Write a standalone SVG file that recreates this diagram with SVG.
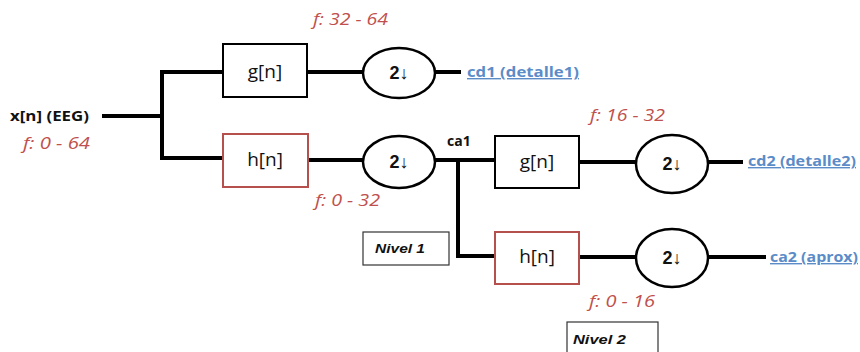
<svg xmlns="http://www.w3.org/2000/svg" width="860" height="352" viewBox="0 0 860 352">
  <style>
    .wire { stroke: #000; stroke-width: 4; fill: none; stroke-linecap: square; }
    .box { fill: #fff; stroke: #000; stroke-width: 2; }
    .box.low { stroke: #b5504c; }
    .down { fill: #fff; stroke: #000; stroke-width: 2.5; }
    .flt { font-family: "Open Sans", "Liberation Sans", sans-serif; font-size: 19px; fill: #111; text-anchor: middle; }
    .dec { font-family: "Liberation Sans", sans-serif; font-size: 18px; font-weight: bold; fill: #111; text-anchor: middle; }
    .out { font-family: "Open Sans", "Liberation Sans", sans-serif; font-size: 14px; font-weight: bold; fill: #5b8cc8; text-decoration: underline; }
    .band { font-family: "Open Sans", "Liberation Sans", sans-serif; font-size: 16px; font-style: italic; fill: #c0504d; }
    .sig { font-family: "Open Sans", "Liberation Sans", sans-serif; font-size: 14px; font-weight: bold; fill: #111; }
    .lvl { fill: #fff; stroke: #333; stroke-width: 1.2; }
    .lvltxt { font-family: "Liberation Sans", sans-serif; font-size: 13px; font-weight: bold; font-style: italic; fill: #111; }
  </style>

  <!-- connectors -->
  <g id="connectors">
    <path class="wire" d="M104 116 H162 M162 72 V158 M162 72 H223 M162 158 H223"/>
    <path class="wire" d="M307 72 H363 M436 72 H459"/>
    <path class="wire" d="M307 160 H363 M436 160 H495 M458 160 V256 H495"/>
    <path class="wire" d="M579 162 H636 M708 162 H741"/>
    <path class="wire" d="M579 257 H636 M708 257 H764"/>
  </g>

  <!-- input -->
  <g id="input">
    <text class="sig" x="10" y="121" textLength="79" lengthAdjust="spacingAndGlyphs">x[n] (EEG)</text>
    <text class="band" x="23" y="149" textLength="67" lengthAdjust="spacingAndGlyphs">f: 0 - 64</text>
  </g>

  <!-- level 1 -->
  <g id="g1">
    <rect class="box" x="223" y="44" width="84" height="53"/>
    <text class="flt" x="265" y="78">g[n]</text>
  </g>
  <g id="h1">
    <rect class="box low" x="223" y="134" width="85" height="53"/>
    <text class="flt" x="265" y="166">h[n]</text>
  </g>
  <g id="ds1">
    <ellipse class="down" cx="399" cy="73" rx="36" ry="25"/>
    <text class="dec" x="399" y="79">2↓</text>
  </g>
  <g id="ds2">
    <ellipse class="down" cx="399" cy="162" rx="36" ry="26"/>
    <text class="dec" x="399" y="168">2↓</text>
  </g>
  <g id="cd1">
    <text class="out" x="467" y="77" textLength="112" lengthAdjust="spacingAndGlyphs">cd1 (detalle1)</text>
  </g>
  <g id="band1">
    <text class="band" x="313" y="25" textLength="75" lengthAdjust="spacingAndGlyphs">f: 32 - 64</text>
    <text class="band" x="315" y="206" textLength="65" lengthAdjust="spacingAndGlyphs">f: 0 - 32</text>
  </g>
  <g id="ca1">
    <text class="sig" x="447" y="146">ca1</text>
  </g>
  <g id="nivel1">
    <rect class="lvl" x="363" y="232" width="86" height="33"/>
    <text class="lvltxt" x="375" y="253" textLength="50" lengthAdjust="spacingAndGlyphs">Nivel  1</text>
  </g>

  <!-- level 2 -->
  <g id="g2">
    <rect class="box" x="495" y="136" width="84" height="52"/>
    <text class="flt" x="537" y="168">g[n]</text>
  </g>
  <g id="h2">
    <rect class="box low" x="495" y="232" width="84" height="52"/>
    <text class="flt" x="537" y="263">h[n]</text>
  </g>
  <g id="ds3">
    <ellipse class="down" cx="672" cy="164" rx="36" ry="29"/>
    <text class="dec" x="672" y="170">2↓</text>
  </g>
  <g id="ds4">
    <ellipse class="down" cx="672" cy="258" rx="36" ry="29"/>
    <text class="dec" x="672" y="264">2↓</text>
  </g>
  <g id="cd2">
    <text class="out" x="748" y="166" textLength="108" lengthAdjust="spacingAndGlyphs">cd2 (detalle2)</text>
  </g>
  <g id="ca2">
    <text class="out" x="770" y="262" textLength="88" lengthAdjust="spacingAndGlyphs">ca2 (aprox)</text>
  </g>
  <g id="band2">
    <text class="band" x="590" y="121" textLength="75" lengthAdjust="spacingAndGlyphs">f: 16 - 32</text>
    <text class="band" x="589" y="307" textLength="66" lengthAdjust="spacingAndGlyphs">f: 0 - 16</text>
  </g>
  <g id="nivel2">
    <rect class="lvl" x="567" y="322" width="91" height="34"/>
    <text class="lvltxt" x="573" y="344" textLength="53" lengthAdjust="spacingAndGlyphs">Nivel  2</text>
  </g>
</svg>
